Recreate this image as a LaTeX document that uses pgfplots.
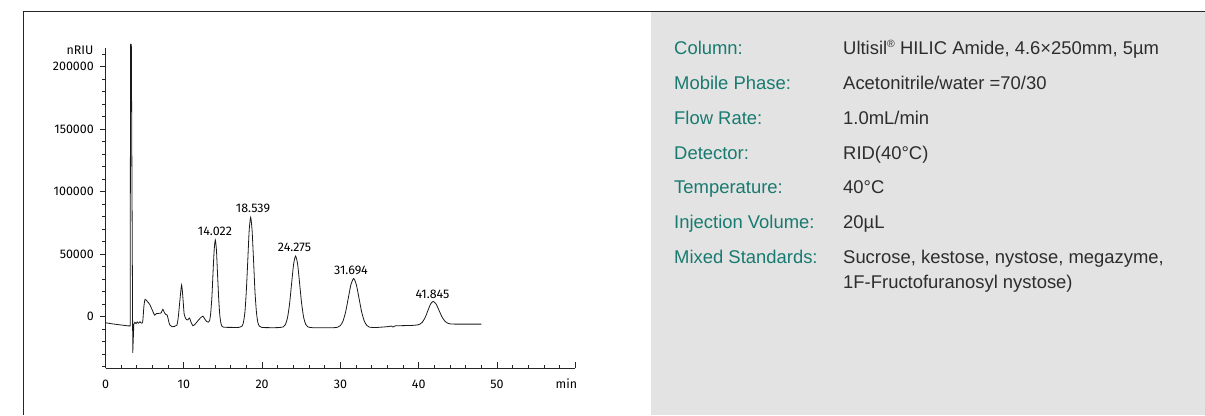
\documentclass[border=0pt]{standalone}
\usepackage{fontspec}
\setmainfont{Liberation Sans}
\newfontfamily\chartfont{Fira Sans}
\usepackage{pgfplots}
\pgfplotsset{compat=1.18}
\definecolor{labteal}{RGB}{24,122,112}
\definecolor{valgray}{RGB}{45,45,45}
\definecolor{panelgray}{RGB}{227,227,227}
\pgfplotsset{mytickalign/.style={xtick align=inside, ytick align=outside}}
\newcommand{\cf}{\chartfont\fontsize{12.5}{14}\selectfont}
\begin{document}
\begin{tikzpicture}[x=1bp,y=1bp]
\useasboundingbox (0,0) rectangle (1205,415);
\fill[panelgray] (651,0) rectangle (1205,403);
\draw[line width=1bp, black!85] (23.5,0) -- (23.5,403.5) -- (1205,403.5);

\begin{scope}[every node/.style={anchor=base west, inner sep=0pt, font=\fontsize{18.5}{22}\selectfont}]
\node[text=labteal] at (674,361) {Column:};
\node[text=labteal] at (674,326) {Mobile Phase:};
\node[text=labteal] at (674,291) {Flow Rate:};
\node[text=labteal] at (674,256) {Detector:};
\node[text=labteal] at (674,221.5) {Temperature:};
\node[text=labteal] at (674,186.5) {Injection Volume:};
\node[text=labteal] at (674,151.5) {Mixed Standards:};
\node[text=valgray] at (843,361) {Ultisil\raisebox{6.5bp}{\fontsize{10.5}{11}\selectfont ®} HILIC Amide, 4.6×250mm, 5µm};
\node[text=valgray] at (843,326) {Acetonitrile/water =70/30};
\node[text=valgray] at (843,291) {1.0mL/min};
\node[text=valgray] at (843,256) {RID(40°C)};
\node[text=valgray] at (843,221.5) {40°C};
\node[text=valgray] at (843,186.5) {20µL};
\node[text=valgray] at (843,151.5) {Sucrose, kestose, nystose, megazyme,};
\node[text=valgray] at (843,127) {1F-Fructofuranosyl nystose)};
\end{scope}

\begin{axis}[
  at={(105.5bp,47bp)}, anchor=south west,
  scale only axis, width=469.8bp, height=320bp,
  xmin=0, xmax=60, ymin=-41000, ymax=215000,
  axis lines=left,
  axis line style={-, line width=0.8bp, black!85},
  mytickalign,
  xtick={0,10,20,30,40,50,60}, xticklabels={0,10,20,30,40,50,{}},
  minor xtick={0,2,...,60},
  ytick={0,50000,100000,150000,200000},
  yticklabels={0,50000,100000,150000,200000},
  minor ytick={-40000,-30000,...,210000},
  major tick length=6bp, minor tick length=3.5bp,
  tick style={line width=0.7bp, black!85},
  scaled y ticks=false, scaled x ticks=false,
  ticklabel style={font=\cf, inner sep=0pt},
  xticklabel style={anchor=base, yshift=-20bp},
  yticklabel style={anchor=east, xshift=-5.5bp},
  clip=false,
]
\addplot[line width=0.8bp, black!90] coordinates {
(0,-4800) (1.0,-5800) (2.0,-6600) (2.9,-7300) (3.15,-7300)
(3.20,218000) (3.30,218000) (3.48,-28800) (3.62,-6000)
};
\addplot[line width=0.8bp, black!90, smooth, tension=0.4] coordinates {
(3.62,-6000) (3.75,-4500) (3.9,-5500) (4.05,-4200) (4.2,-5200) (4.4,-4000)
(4.55,-5000) (4.75,-4200) (4.9,8000) (5.05,13900) (5.3,12500) (5.63,10000)
(6.0,5000) (6.27,1300) (6.5,2500) (6.8,2700) (7.1,3000) (7.33,6000)
(7.5,3500) (7.67,2000) (7.88,1300) (8.05,-3000) (8.2,-6500) (8.5,-8000)
(8.8,-7800) (9.12,-6700) (9.3,0) (9.5,13000) (9.72,25400) (9.9,14000)
(10.05,2000) (10.3,-2100) (10.5,-2600) (10.74,-1000) (10.9,-4000)
(11.17,-7200) (11.5,-5500) (11.9,-2500) (12.2,-500) (12.44,500)
(12.7,-2000) (12.95,-4000) (13.15,-4300)
(13.30,-3040) (13.44,3120) (13.59,15880) (13.73,34880) (13.88,53480)
(14.022,61400) (14.17,53190) (14.31,33890) (14.46,14200) (14.60,960)
(14.75,-5430) (14.89,-7720) (15.1,-8400) (16.0,-8500) (17.0,-8500)
(17.43,-7520) (17.61,-4640) (17.80,3410) (17.98,20070) (18.17,44870)
(18.35,69160) (18.539,79500) (18.72,69160) (18.91,44870) (19.09,20070)
(19.28,3410) (19.46,-4640) (19.65,-7520) (20.0,-8600) (22.0,-8700)
(22.72,-8060) (22.98,-6185) (23.24,-947) (23.50,9905) (23.76,26052)
(24.02,41867) (24.275,48600) (24.54,41867) (24.80,26052) (25.06,9905)
(25.32,-947) (25.58,-6185) (25.84,-8060) (26.5,-8800) (29.0,-8800)
(29.65,-8364) (29.99,-7075) (30.33,-3483) (30.67,3961) (31.01,15035)
(31.35,25882) (31.694,30500) (32.03,25882) (32.37,15035) (32.71,3961)
(33.05,-3483) (33.39,-7075) (33.73,-8364) (34.5,-8600) (35.5,-8200)
(36.2,-7800) (36.5,-7400) (36.7,-8200) (37.0,-7300) (38.0,-7100)
(39.0,-7000) (39.80,-6588) (40.14,-5962) (40.48,-4216) (40.825,-598)
(41.165,4784) (41.505,10056) (41.845,12300) (42.22,10150) (42.595,5099)
(42.97,-58) (43.345,-3524) (43.72,-5197) (44.095,-5797) (45.0,-5900)
(48.0,-5900)
};
\node[anchor=south, inner sep=0pt, font=\cf, yshift=4.5bp] at (axis cs:13.98,61400) {14.022};
\node[anchor=south, inner sep=0pt, font=\cf, yshift=4.5bp] at (axis cs:18.84,79500) {18.539};
\node[anchor=south, inner sep=0pt, font=\cf, yshift=4.5bp] at (axis cs:24.14,48600) {24.275};
\node[anchor=south, inner sep=0pt, font=\cf, yshift=4bp] at (axis cs:31.35,30500) {31.694};
\node[anchor=south, inner sep=0pt, font=\cf, yshift=3bp] at (axis cs:41.76,12300) {41.845};
\node[anchor=east, inner sep=0pt, font=\cf, xshift=-12bp, yshift=-2bp] at (rel axis cs:0,1) {nRIU};
\node[anchor=base east, inner sep=0pt, font=\cf, xshift=2bp, yshift=-20bp] at (rel axis cs:1,0) {min};
\end{axis}
\end{tikzpicture}
\end{document}
